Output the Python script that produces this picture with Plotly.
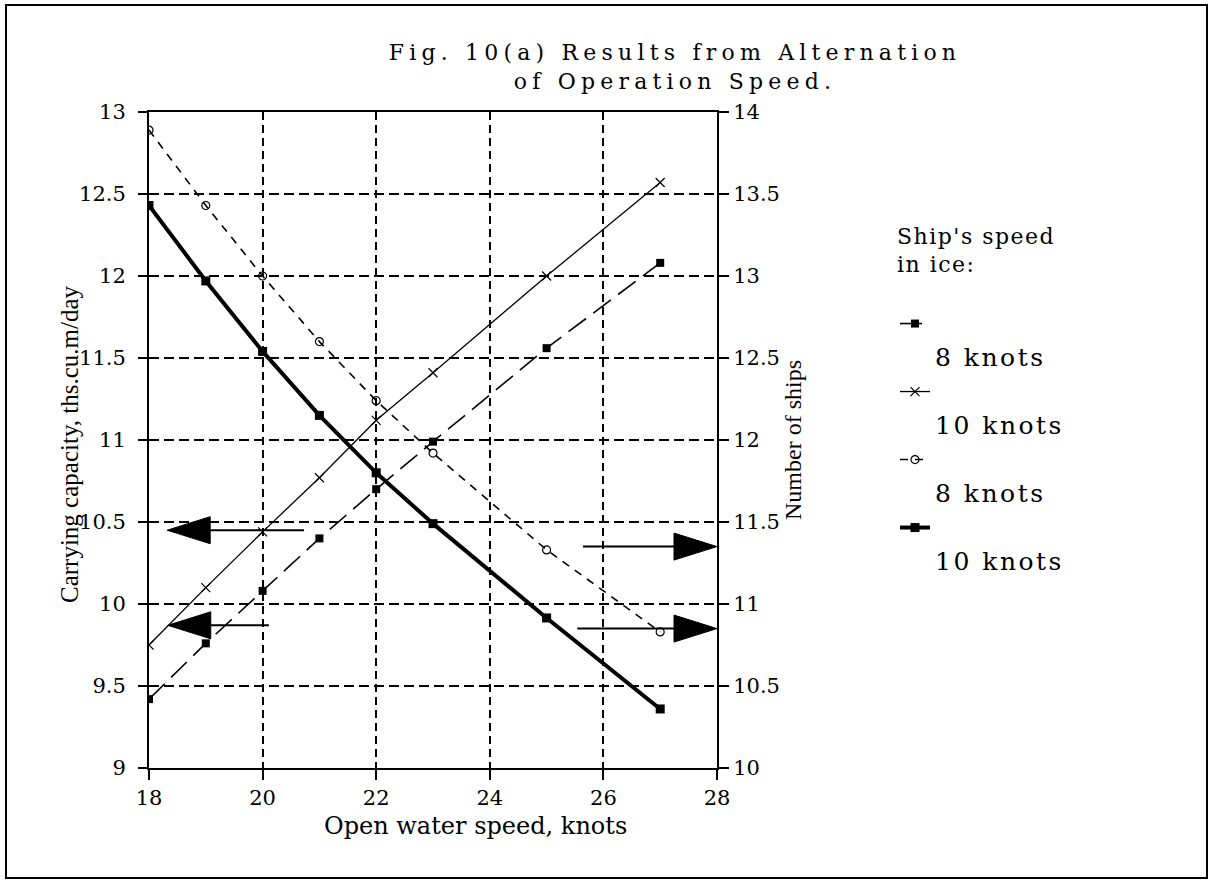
import plotly.graph_objects as go

# ---------------- data ----------------
speed = [18, 19, 20, 21, 22, 23, 25, 27]
# Carrying capacity, ths.cu.m/day (left axis)
cap_8 = [9.42, 9.76, 10.08, 10.40, 10.70, 10.99, 11.56, 12.08]
cap_10 = [9.75, 10.10, 10.44, 10.77, 11.12, 11.41, 12.00, 12.57]
# Number of ships (right axis)
ships_8 = [13.89, 13.43, 13.00, 12.60, 12.24, 11.92, 11.33, 10.83]
ships_10 = [13.43, 12.97, 12.54, 12.15, 11.80, 11.49, 10.915, 10.36]

x_ticks = [18, 20, 22, 24, 26, 28]
left_range = [9, 13]
right_range = [10, 14]

# annotation arrows: (tip x, y on left axis, tail x)
arrows = [
    (18.32, 10.45, 20.73),
    (18.33, 9.87, 20.11),
    (28.0, 10.35, 25.64),
    (28.0, 9.85, 25.54),
]

# ---------------- layout geometry ----------------
W, H = 1214, 880
ML, MR, MT, MB = 149, 497, 112, 112
PW, PH = W - ML - MR, H - MT - MB


def px_x(p):
    return (p - ML) / PW


def px_y(p):
    return (H - MB - p) / PH


SERIF = "DejaVu Serif, Liberation Serif, serif"
TIMES = "Liberation Serif, DejaVu Serif, serif"


def spaced(s, ls):
    return f"<span style='letter-spacing:{ls}px'>{s}</span>"


fig = go.Figure()

fig.add_trace(go.Scatter(
    x=speed, y=cap_8, name=" <br>" + spaced("8 knots", 2.5), mode="lines+markers",
    line=dict(color="black", width=1.6, dash="22px,9px"),
    marker=dict(symbol="square", size=8, color="black"),
))
fig.add_trace(go.Scatter(
    x=speed, y=cap_10, name=" <br>" + spaced("10 knots", 2.5), mode="lines+markers",
    line=dict(color="black", width=1.3),
    marker=dict(symbol="x-thin", size=9, color="black", line=dict(color="black", width=1.2)),
))
fig.add_trace(go.Scatter(
    x=speed, y=ships_8, name=" <br>" + spaced("8 knots", 2.5), mode="lines+markers", yaxis="y2",
    line=dict(color="black", width=1.6, dash="8px,7px"),
    marker=dict(symbol="circle-open", size=8, color="black", line=dict(color="black", width=1.2)),
))
fig.add_trace(go.Scatter(
    x=speed, y=ships_10, name=" <br>" + spaced("10 knots", 2.5), mode="lines+markers", yaxis="y2",
    line=dict(color="black", width=4),
    marker=dict(symbol="square", size=9, color="black"),
))

# arrows (shaft + filled head)
head_len = 43 / PW * (x_ticks[-1] - x_ticks[0])
head_half = 13.5 / PH * (left_range[1] - left_range[0])
shapes = []
for tip, yv, tail in arrows:
    d = 1 if tail < tip else -1
    base = tip - d * head_len
    shapes.append(dict(type="line", xref="x", yref="y", x0=tail, x1=base, y0=yv, y1=yv,
                       line=dict(color="black", width=2)))
    shapes.append(dict(type="path", xref="x", yref="y",
                       path=f"M {tip},{yv} L {base},{yv + head_half} L {base},{yv - head_half} Z",
                       fillcolor="black", line=dict(color="black", width=1)))

# outer frame
shapes.append(dict(type="rect", xref="paper", yref="paper",
                   x0=px_x(6), x1=px_x(1207), y0=px_y(878), y1=px_y(5),
                   line=dict(color="black", width=2), layer="below"))

fig.update_layout(
    width=W, height=H,
    margin=dict(l=ML, r=MR, t=MT, b=MB),
    paper_bgcolor="white", plot_bgcolor="white",
    font=dict(family=SERIF, color="black", size=21),
    title=dict(
        text=spaced("Fig. 10(a) Results from Alternation", 5.2) + "<br>" + spaced("of Operation Speed.", 5.2),
        x=675 / W, xanchor="center", xref="container",
        y=1 - 60 / H, yanchor="top", yref="container",
        font=dict(family=SERIF, size=22, color="black"),
    ),
    xaxis=dict(
        range=[x_ticks[0], x_ticks[-1]], tickvals=x_ticks,
        ticks="outside", ticklen=10, tickwidth=1.5, tickcolor="black",
        showline=True, linewidth=2, linecolor="black", mirror=True,
        showgrid=True, gridcolor="black", gridwidth=1.5, griddash="8px,5px",
        zeroline=False, tickfont=dict(family=SERIF, size=21), ticklabelstandoff=0,
    ),
    yaxis=dict(
        range=left_range, dtick=0.5,
        ticks="outside", ticklen=9, tickwidth=1.5, tickcolor="black",
        showline=True, linewidth=2, linecolor="black",
        showgrid=True, gridcolor="black", gridwidth=1.5, griddash="10px,5px",
        zeroline=False, tickfont=dict(family=SERIF, size=21), ticklabelstandoff=8,
    ),
    yaxis2=dict(
        range=right_range, dtick=0.5, overlaying="y", side="right",
        ticks="outside", ticklen=10, tickwidth=1.5, tickcolor="black",
        showline=True, linewidth=2, linecolor="black",
        showgrid=False, zeroline=False, tickfont=dict(family=SERIF, size=21),
        title=dict(text="Number of ships", font=dict(family=TIMES, size=24), standoff=4),
    ),
    legend=dict(
        xref="container", yref="container", x=895 / W, y=1 - 215 / H,
        xanchor="left", yanchor="top", valign="top",
        bgcolor="rgba(0,0,0,0)", borderwidth=0, traceorder="normal",
        font=dict(family=SERIF, size=25, color="black"),
        title=dict(text=spaced("Ship's speed", 1.5) + "<br>" + spaced("in ice:", 1.5) + "<br> ",
                   font=dict(family=SERIF, size=22, color="black"), side="top"),
    ),
    shapes=shapes,
    annotations=[
        dict(text="Carrying capacity, ths.cu.m/day", xref="paper", yref="paper",
             x=px_x(69), y=px_y(444), textangle=-90, showarrow=False,
             xanchor="center", yanchor="middle", font=dict(family=TIMES, size=25)),
        dict(text="Open water speed, knots", xref="paper", yref="paper",
             x=px_x(475), y=px_y(826), showarrow=False,
             xanchor="center", yanchor="middle", font=dict(family=SERIF, size=24)),
    ],
    showlegend=True,
)

fig.write_html("out.html")
